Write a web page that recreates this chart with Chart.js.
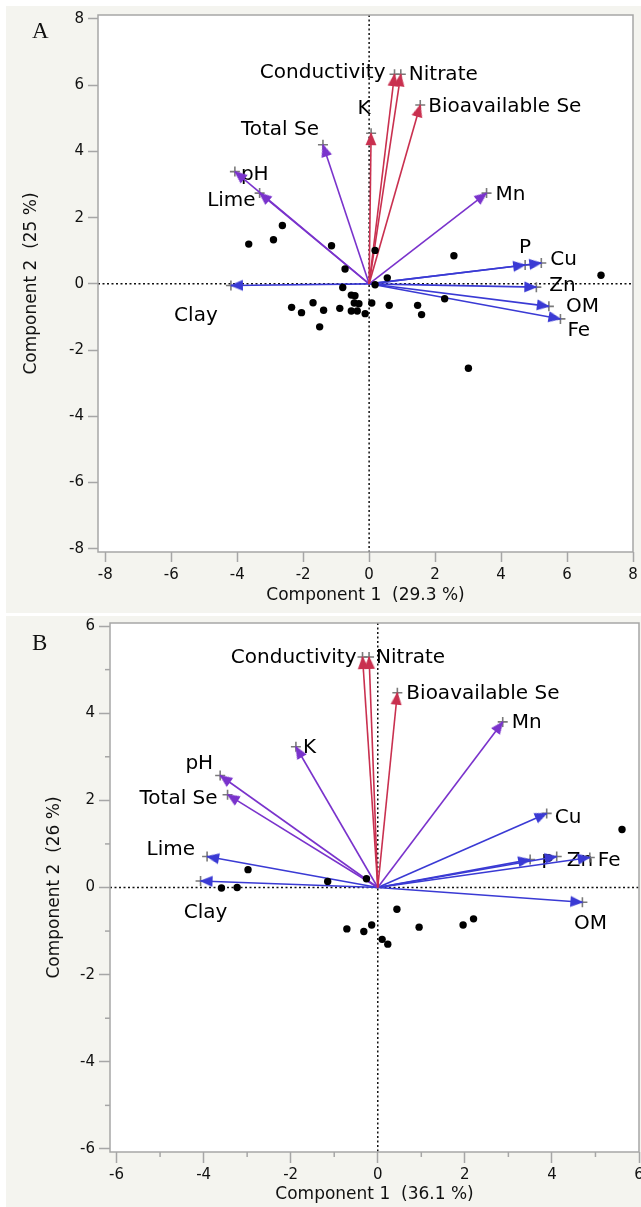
<!DOCTYPE html>
<html><head><meta charset="utf-8">
<script src="https://cdn.jsdelivr.net/npm/chart.js@4.4.1/dist/chart.umd.min.js"></script>
<style>
html,body{margin:0;padding:0;background:#fff;width:641px;height:1207px;overflow:hidden}
.panel{position:absolute;left:6px;width:635px;background:#f4f4ef;overflow:hidden}
#pA{top:6px;height:607px}
#pB{top:616px;height:591px}
.tag{position:absolute;font-family:"Liberation Serif","Times New Roman",serif;font-size:23px;color:#111;line-height:26px}
canvas{position:absolute;left:0;top:0}
</style></head><body>
<div class="panel" id="pA"><canvas id="cA" width="660" height="607"></canvas><div class="tag" style="left:26px;top:12px">A</div></div>
<div class="panel" id="pB"><canvas id="cB" width="660" height="591"></canvas><div class="tag" style="left:26px;top:14px">B</div></div>
<script>
// ---------- Panel A data ----------
const varsA  = ['Conductivity','Nitrate','K','Bioavailable Se','Total Se','pH','Lime','Mn','P','Cu','Zn','OM','Fe','Clay'];
const pc1A   = [0.77, 0.96, 0.06, 1.55, -1.40, -4.07, -3.32, 3.56, 4.73, 5.22, 5.07, 5.45, 5.80, -4.19];
const pc2A   = [6.33, 6.33, 4.55, 5.40, 4.20, 3.39, 2.74, 2.74, 0.57, 0.63, -0.10, -0.68, -1.06, -0.05];
const groupA = ['red','red','red','red','purple','purple','purple','purple','blue','blue','blue','blue','blue','blue'];
const scoreA1 = [-2.63,-3.65,-2.90,-1.14,0.18,2.57,7.03,-0.73,0.55,-0.80,0.18,-0.54,-0.43,-0.45,-0.31,0.08,0.61,1.47,1.59,2.29,-2.35,-2.05,-1.70,-1.38,-0.89,-0.54,-0.36,-0.12,-1.50,3.01];
const scoreA2 = [1.76,1.20,1.33,1.15,1.01,0.85,0.26,0.45,0.18,-0.11,-0.03,-0.34,-0.36,-0.58,-0.60,-0.58,-0.65,-0.65,-0.93,-0.45,-0.71,-0.87,-0.57,-0.80,-0.74,-0.82,-0.82,-0.90,-1.30,-2.55];
const ticksA = [-8,-6,-4,-2,0,2,4,6,8];
const xTitleA = 'Component 1  (29.3 %)';
const yTitleA = 'Component 2  (25 %)';

// ---------- Panel B data ----------
const varsB  = ['Conductivity','Nitrate','Bioavailable Se','Mn','K','pH','Total Se','Cu','Lime','Clay','P','Zn','Fe','OM'];
const pc1B   = [-0.35, -0.20, 0.45, 2.87, -1.88, -3.62, -3.45, 3.88, -3.92, -4.07, 3.50, 4.11, 4.87, 4.70];
const pc2B   = [5.29, 5.29, 4.47, 3.80, 3.23, 2.57, 2.13, 1.70, 0.71, 0.15, 0.64, 0.71, 0.69, -0.34];
const groupB = ['red','red','red','purple','purple','purple','purple','blue','blue','blue','blue','blue','blue','blue'];
const scoreB1 = [5.61,-2.98,-1.15,-0.26,-3.23,-3.59,0.44,-0.71,-0.32,-0.14,0.10,0.23,0.95,1.96,2.20];
const scoreB2 = [1.33,0.41,0.14,0.20,0.00,-0.01,-0.50,-0.95,-1.01,-0.86,-1.19,-1.30,-0.91,-0.86,-0.72];
const ticksB = [-6,-4,-2,0,2,4,6];
const minorTicksB = [-5,-3,-1,1,3,5];
const xTitleB = 'Component 1  (36.1 %)';
const yTitleB = 'Component 2  (26 %)';

// ---------- styles / label placement (pixels relative to arrow tip) ----------
const COLORS = {red:'#c9304f', purple:'#7a33cc', blue:'#3a3ad4'};
const labelPosA = {
  'Conductivity':[-9,-1,'right'], 'Nitrate':[8,1,'left'], 'K':[-7,-24,'center'],
  'Bioavailable Se':[8,2,'left'], 'Total Se':[-4,-15,'right'], 'pH':[6,3,'left'],
  'Lime':[-4,8,'right'], 'Mn':[9,2,'left'], 'P':[0,-17,'center'], 'Cu':[9,-3,'left'],
  'Zn':[13,-1,'left'], 'OM':[17,0,'left'], 'Fe':[7,12,'left'], 'Clay':[-35,30,'center']
};
const labelPosB = {
  'Conductivity':[-6,1,'right'], 'Nitrate':[7,1,'left'], 'Bioavailable Se':[9,1,'left'],
  'Mn':[9,1,'left'], 'K':[7,1,'left'], 'pH':[-7,-12,'right'], 'Total Se':[-10,4,'right'],
  'Cu':[8,4,'left'], 'Lime':[-12,-7,'right'], 'Clay':[5,32,'center'], 'P':[11,3,'left'],
  'Zn':[10,4,'left'], 'Fe':[8,3,'left'], 'OM':[8,21,'center']
};

function arrowImg(color){
  const c = document.createElement('canvas'); c.width = 26; c.height = 26;
  const g = c.getContext('2d'); g.fillStyle = color;
  g.beginPath(); g.moveTo(13,12); g.lineTo(7.5,25); g.lineTo(18.5,25); g.closePath(); g.fill();
  return c;
}
const ARROWS = {red:arrowImg(COLORS.red), purple:arrowImg(COLORS.purple), blue:arrowImg(COLORS.blue)};
const FONT = '"DejaVu Sans", sans-serif';
const FRAME = '#a6a6a6';

function makePlugin(cfg){
  return {
    id:'pca_'+cfg.id,
    beforeDraw(chart){
      const {ctx, chartArea:a} = chart;
      ctx.save(); ctx.fillStyle = '#fff'; ctx.fillRect(a.left, a.top, a.width, a.height); ctx.restore();
    },
    beforeDatasetsDraw(chart){
      const {ctx, chartArea:a, scales:{x, y}} = chart;
      ctx.save();
      ctx.strokeStyle = '#111'; ctx.lineWidth = 1.5; ctx.setLineDash([2,2.5]);
      const x0 = x.getPixelForValue(0), y0 = y.getPixelForValue(0);
      ctx.beginPath(); ctx.moveTo(x0, a.top); ctx.lineTo(x0, a.bottom); ctx.stroke();
      ctx.beginPath(); ctx.moveTo(a.left, y0); ctx.lineTo(a.right, y0); ctx.stroke();
      ctx.setLineDash([]);
      ctx.fillStyle = '#000'; ctx.font = '20px ' + FONT; ctx.textBaseline = 'middle';
      cfg.vars.forEach((v, i) => {
        const p = cfg.labelPos[v];
        ctx.textAlign = p[2];
        ctx.fillText(v, x.getPixelForValue(cfg.pc1[i]) + p[0], y.getPixelForValue(cfg.pc2[i]) + p[1]);
      });
      ctx.restore();
    },
    afterDraw(chart){
      const {ctx, chartArea:a, scales:{x, y}} = chart;
      ctx.save();
      ctx.strokeStyle = FRAME; ctx.lineWidth = 1.5;
      ctx.strokeRect(a.left, a.top, a.width, a.height);
      (cfg.minor || []).forEach(v => {
        const px = x.getPixelForValue(v), py = y.getPixelForValue(v);
        ctx.beginPath(); ctx.moveTo(px, a.bottom); ctx.lineTo(px, a.bottom + 5); ctx.stroke();
        ctx.beginPath(); ctx.moveTo(a.left - 5, py); ctx.lineTo(a.left, py); ctx.stroke();
      });
      ctx.restore();
    }
  };
}

function makeChart(cfg){
  const datasets = [];
  datasets.push({label:'scores', data: cfg.s1.map((v,i)=>({x:v, y:cfg.s2[i]})), showLine:false,
    pointRadius:3.7, pointBackgroundColor:'#000', pointBorderWidth:0, pointHoverRadius:3.7});
  cfg.vars.forEach((v,i)=>{
    const g = cfg.group[i];
    const ang = Math.atan2(cfg.pc1[i], cfg.pc2[i]) * 180 / Math.PI;
    datasets.push({label:v, data:[{x:0,y:0},{x:cfg.pc1[i], y:cfg.pc2[i]}], showLine:true,
      borderColor:COLORS[g], borderWidth:1.6, pointRadius:[0,6], pointHoverRadius:[0,6],
      pointStyle:['circle', ARROWS[g]], rotation:[0, ang], pointBorderWidth:0,
      pointBackgroundColor:COLORS[g]});
  });
  datasets.push({label:'tips', data: cfg.pc1.map((v,i)=>({x:v, y:cfg.pc2[i]})), showLine:false,
    pointStyle:'cross', pointRadius:5, pointBorderColor:'#7a7a7a', pointBorderWidth:1.6, pointHoverRadius:5});
  const tickFont = {family:FONT, size:15};
  const titleFont = {family:FONT, size:17};
  new Chart(document.getElementById(cfg.id), {
    type:'scatter',
    data:{datasets},
    options:{
      responsive:false, animation:false, devicePixelRatio:1, events:[],
      layout:{padding:cfg.padding},
      plugins:{legend:{display:false}, tooltip:{enabled:false}, title:{display:false}},
      scales:{
        x:{type:'linear', position:'bottom', min:cfg.xMin, max:cfg.xMax,
          afterBuildTicks: s => { s.ticks = cfg.ticks.map(v=>({value:v})); },
          afterFit: s => { s.height = cfg.xH; s.paddingLeft = 0; s.paddingRight = 0; },
          grid:{drawOnChartArea:false, drawTicks:true, tickLength:cfg.tickLen, tickColor:FRAME, tickWidth:1.5},
          border:{display:false},
          ticks:{padding:cfg.xTickPad, font:tickFont, color:'#111', autoSkip:false, maxRotation:0, callback:v=>String(v)},
          title:{display:true, text:cfg.xTitle, font:titleFont, color:'#111', padding:{top:0, bottom:cfg.xTitlePad}}
        },
        y:{type:'linear', position:'left', min:cfg.yMin, max:cfg.yMax,
          afterBuildTicks: s => { s.ticks = cfg.ticks.map(v=>({value:v})); },
          afterFit: s => { s.width = cfg.yW; s.paddingTop = 0; s.paddingBottom = 0; },
          grid:{drawOnChartArea:false, drawTicks:true, tickLength:cfg.tickLen, tickColor:FRAME, tickWidth:1.5},
          border:{display:false},
          ticks:{padding:cfg.yTickPad, font:tickFont, color:'#111', autoSkip:false, callback:v=>String(v)},
          title:{display:true, text:cfg.yTitle, font:titleFont, color:'#111', padding:{top:cfg.yTitlePad, bottom:0}}
        }
      }
    },
    plugins:[makePlugin(cfg)]
  });
}

makeChart({id:'cA', vars:varsA, pc1:pc1A, pc2:pc2A, group:groupA, s1:scoreA1, s2:scoreA2,
  ticks:ticksA, minor:[], labelPos:labelPosA, xTitle:xTitleA, yTitle:yTitleA,
  xMin:-8.22, xMax:8.0, yMin:-8.1, yMax:8.12, tickLen:10, xTickPad:4, yTickPad:4,
  xH:61, yW:92, padding:{top:9, right:33, bottom:0, left:0}, xTitlePad:7, yTitlePad:15});

makeChart({id:'cB', vars:varsB, pc1:pc1B, pc2:pc2B, group:groupB, s1:scoreB1, s2:scoreB2,
  ticks:ticksB, minor:minorTicksB, labelPos:labelPosB, xTitle:xTitleB, yTitle:yTitleB,
  xMin:-6.15, xMax:6.0, yMin:-6.07, yMax:6.07, tickLen:11, xTickPad:3, yTickPad:4,
  xH:55, yW:104, padding:{top:7, right:27, bottom:0, left:0}, xTitlePad:2, yTitlePad:38});
</script>
</body></html>
